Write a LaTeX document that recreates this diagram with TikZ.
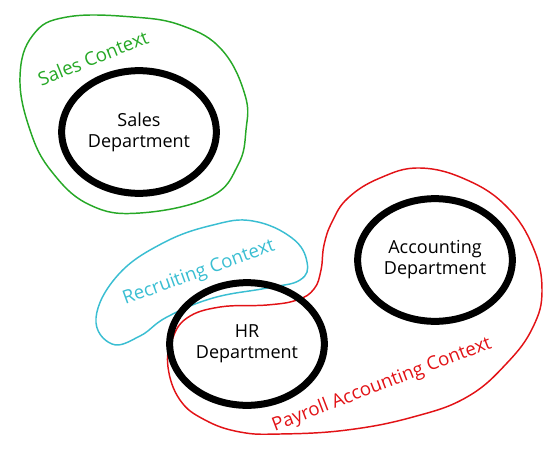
\documentclass[tikz,border=0pt]{standalone}
\usepackage{fontspec}
\setmainfont{Open Sans}
\usetikzlibrary{shapes}

\definecolor{ctxgreen}{RGB}{38,168,38}
\definecolor{ctxcyan}{RGB}{58,190,210}
\definecolor{ctxred}{RGB}{226,18,22}

\tikzset{
  dept/.style={draw, ellipse, line width=5.25pt, minimum width=116pt, minimum height=92pt, inner sep=0pt, align=center, font=\fontsize{13.5}{15.75}\selectfont},
  ctxline/.style={line width=1.1pt},
  ctxlabel/.style={inner sep=0pt, font=\fontsize{14}{16}\selectfont}
}

\begin{document}
\begin{tikzpicture}[x=0.75pt,y=0.75pt,yscale=-1,xscale=1]
\useasboundingbox (0,0) rectangle (560,457);

%Shape: Sales context blob
\draw [ctxline, color=ctxgreen] plot [smooth cycle, tension=0.7] coordinates {(20,77) (33,35) (67,17) (133,17) (183,26) (222,50) (245,95) (246,130) (238,165) (210,197) (140,213) (90,205) (52,172) (30,130)};
%Shape: Recruiting context blob
\draw [ctxline, color=ctxcyan] plot [smooth cycle, tension=0.7] coordinates {(96,318) (118,275) (163,243) (213,225) (253,221) (292,238) (307,262) (300,280) (267,288) (213,298) (167,317) (140,336) (112,344)};
%Shape: Payroll accounting context blob
\draw [ctxline, color=ctxred] plot [smooth cycle, tension=0.7] coordinates {(420,168) (467,180) (507,207) (533,247) (542,290) (533,327) (507,363) (467,397) (413,417) (347,430) (280,434) (240,432) (205,420) (180,400) (168,367) (172,340) (187,318) (220,307) (267,305) (297,300) (314,289) (321,270) (324,245) (332,222) (348,198) (380,178)};

%Shape: Ellipse
\node [dept] (sales) at (139,132) {Sales\\Department};
%Shape: Ellipse
\node [dept] (accounting) at (435,260) {Accounting\\Department};
%Shape: Ellipse
\node [dept] (hr) at (247,344) {HR\\Department};

% Text Node
\node [ctxlabel, color=ctxgreen, rotate=22] (salesctx) at (93,58) {Sales Context};
% Text Node
\node [ctxlabel, color=ctxcyan, rotate=20] (recruitctx) at (199,273) {Recruiting Context};
% Text Node
\node [ctxlabel, color=ctxred, rotate=21] (payrollctx) at (382,385) {Payroll Accounting Context};

\end{tikzpicture}
\end{document}
